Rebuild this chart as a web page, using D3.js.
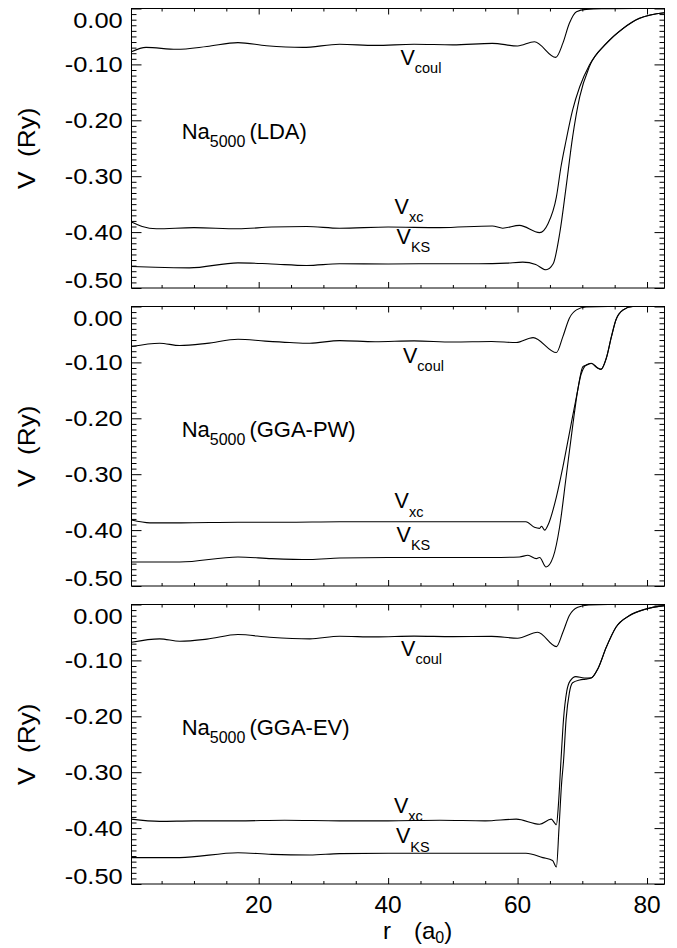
<!DOCTYPE html>
<html><head><meta charset="utf-8">
<script src="https://cdn.jsdelivr.net/npm/d3@7"></script>
<style>
html,body{margin:0;padding:0;background:#fff;}
svg{display:block;font-family:"Liberation Sans",Arial,Helvetica,sans-serif;}
text{white-space:pre;}
</style></head>
<body>
<script>
// ---------- data ----------
const panelNames = ["(LDA)", "(GGA-PW)", "(GGA-EV)"];
const xTickValues = [20, 40, 60, 80];
const xTickLabels = ["20", "40", "60", "80"];
const yTickValues = [0, -0.1, -0.2, -0.3, -0.4, -0.5];
const yTickLabels = ["0.00", "-0.10", "-0.20", "-0.30", "-0.40", "-0.50"];

// Panel 1: LDA
const lda_coul_r = [0.35, 2.6, 7.3, 12, 16.8, 21.2, 26.8, 32.5, 38, 44, 50, 56.1, 60, 62.6, 65.9, 67, 68, 69.1, 70.6, 73, 78, 82.7];
const lda_coul_v = [-0.0774, -0.0696, -0.0730, -0.068, -0.0610, -0.0666, -0.0696, -0.0640, -0.066, -0.064, -0.065, -0.0624, -0.0670, -0.0595, -0.0875, -0.0620, -0.0265, -0.0057, -0.0015, -0.0003, 0, 0];
const lda_xc_r = [0.35, 2, 4.2, 10, 16.8, 22, 27.4, 32.5, 40, 48, 56.1, 57.7, 60.3, 63.4, 64.7, 66, 66.7, 67.5, 68.5, 69.6, 71.1, 73.7, 76.3, 78.8, 82.7];
const lda_xc_v = [-0.382, -0.390, -0.394, -0.392, -0.394, -0.391, -0.390, -0.393, -0.391, -0.392, -0.389, -0.393, -0.388, -0.401, -0.385, -0.337, -0.2835, -0.2357, -0.182, -0.140, -0.101, -0.0624, -0.0355, -0.0176, -0.0075];
const lda_ks_r = [0.35, 4, 9.3, 16.8, 22, 27.4, 32.5, 40, 48, 54, 58.3, 60.8, 62.8, 64.4, 65.5, 66.5, 67.5, 68.5, 69.6, 71.1, 73.7, 76.3, 78.8, 82.7];
const lda_ks_v = [-0.4615, -0.463, -0.464, -0.455, -0.457, -0.4597, -0.4567, -0.457, -0.4565, -0.4567, -0.4555, -0.4538, -0.458, -0.4674, -0.4567, -0.403, -0.319, -0.23, -0.158, -0.104, -0.0630, -0.0358, -0.0178, -0.0075];

// Panel 2: GGA-PW
const pw_coul_r = [0.35, 4.7, 7.8, 12, 16.8, 21, 24.8, 27.9, 32.5, 38, 44, 50, 56, 59.8, 62.4, 66, 67, 68, 69.1, 70.6, 74, 82.7];
const pw_coul_v = [-0.0717, -0.0657, -0.0699, -0.066, -0.0585, -0.062, -0.0645, -0.0657, -0.061, -0.063, -0.0615, -0.0635, -0.0625, -0.0645, -0.0556, -0.0824, -0.0538, -0.0209, -0.0060, -0.0010, 0, 0];
const pw_xc_r = [0.35, 3.2, 8, 16.8, 24, 32.5, 40, 48, 56, 61.3, 62.6, 63.4, 63.7, 64.2, 64.7, 66, 67, 68, 69.1, 69.8, 70.6, 71.4, 72.4, 72.9, 73.7, 74.5, 75.2, 76.3, 77.8, 82.7];
const pw_xc_v = [-0.382, -0.387, -0.387, -0.386, -0.386, -0.385, -0.385, -0.385, -0.385, -0.385, -0.395, -0.397, -0.393, -0.400, -0.391, -0.3405, -0.287, -0.227, -0.161, -0.122, -0.1045, -0.1015, -0.110, -0.112, -0.0925, -0.0538, -0.0238, -0.006, 0.0, 0.0];
const pw_ks_r = [0.35, 7.8, 16.8, 22, 27.9, 32.5, 40, 48, 56, 60.3, 61.6, 62.9, 63.4, 64.4, 65.5, 66.5, 67.5, 68.5, 69.3, 70.1, 70.6, 71.4, 72.4, 72.9, 73.7, 74.5, 75.2, 76.3, 77.8, 82.7];
const pw_ks_v = [-0.457, -0.457, -0.448, -0.451, -0.4527, -0.450, -0.449, -0.449, -0.449, -0.448, -0.445, -0.451, -0.449, -0.466, -0.448, -0.394, -0.305, -0.215, -0.149, -0.1075, -0.1050, -0.1020, -0.1105, -0.1125, -0.0930, -0.0540, -0.0240, -0.0062, 0.0, 0.0];

// Panel 3: GGA-EV
const ev_coul_r = [0.35, 4.7, 7.8, 12, 16.8, 21.7, 27.9, 32.5, 38, 44, 50, 56, 60, 63.1, 66, 67, 68, 69.3, 71, 74, 82.7];
const ev_coul_v = [-0.0675, -0.0615, -0.0657, -0.062, -0.0538, -0.0586, -0.0615, -0.0568, -0.058, -0.0565, -0.0575, -0.0570, -0.0603, -0.0496, -0.0753, -0.0496, -0.0197, -0.0048, -0.0008, 0, 0];
const ev_xc_r = [0.35, 4.7, 10, 16.8, 24, 32.5, 40, 48, 55, 59.8, 63.4, 65.2, 65.8, 66.0, 66.3, 66.7, 67.1, 67.6, 68.1, 69.0, 70.3, 71.4, 72.4, 73.7, 75.2, 77.3, 79.9, 82.7];
const ev_xc_v = [-0.384, -0.388, -0.387, -0.387, -0.386, -0.387, -0.387, -0.386, -0.387, -0.384, -0.393, -0.384, -0.392, -0.394, -0.36, -0.28, -0.205, -0.155, -0.137, -0.129, -0.1314, -0.131, -0.115, -0.0765, -0.0406, -0.0197, -0.0078, -0.002];
const ev_ks_r = [0.35, 7.8, 16.8, 22, 27.9, 32.5, 40, 48, 55, 61.3, 63.9, 65.4, 66.0, 66.4, 66.8, 67.1, 67.5, 68.0, 68.5, 69.6, 70.5, 71.4, 72.4, 73.7, 75.2, 77.3, 79.9, 82.7];
const ev_ks_v = [-0.4528, -0.4528, -0.444, -0.447, -0.448, -0.4456, -0.445, -0.445, -0.445, -0.445, -0.4528, -0.458, -0.4695, -0.40, -0.32, -0.28, -0.205, -0.158, -0.140, -0.135, -0.1335, -0.1315, -0.1152, -0.0767, -0.0408, -0.0198, -0.0079, -0.002];

// label anchors (data coordinates)
const curveLabelNames = ["coul", "xc", "KS"];
const curveLabelR = [[41.9, 41.0, 41.3], [42.3, 41.0, 41.3], [42.0, 40.9, 41.2]];
const curveLabelV = [[-0.101, -0.367, -0.421], [-0.101, -0.361, -0.421], [-0.092, -0.373, -0.427]];
const nameLabelR = 8.1;
const nameLabelV = -0.233;

// ---------- layout ----------
const W = 677, H = 948;
const panelTop = [8.5, 306.5, 604.5];
const panelH = 279.5;
const x0 = 131.5, x1 = 664.5;

const svg = d3.select("body").append("svg").attr("width", W).attr("height", H);

const x = d3.scaleLinear().domain([0.35, 82.7]).range([x0, x1]);

const panels = [
  {coul: [lda_coul_r, lda_coul_v], xc: [lda_xc_r, lda_xc_v], ks: [lda_ks_r, lda_ks_v]},
  {coul: [pw_coul_r, pw_coul_v], xc: [pw_xc_r, pw_xc_v], ks: [pw_ks_r, pw_ks_v]},
  {coul: [ev_coul_r, ev_coul_v], xc: [ev_xc_r, ev_xc_v], ks: [ev_ks_r, ev_ks_v]}
];

const xMinor = d3.range(5, 85, 5).filter(v => v % 20 !== 0);
const yMinor = d3.range(-50, 1, 1).map(v => v / 100).filter(v => Math.round(v * 100) % 10 !== 0);

function stretch(sel, k) {
  sel.each(function() {
    const w = this.getComputedTextLength();
    d3.select(this).attr("textLength", w * k).attr("lengthAdjust", "spacingAndGlyphs");
  });
}

panels.forEach((p, i) => {
  const top = panelTop[i];
  const y = d3.scaleLinear().domain([-0.5, 0]).range([top + panelH, top]);
  const g = svg.append("g");

  const clipId = "clip" + i;
  svg.append("clipPath").attr("id", clipId).append("rect")
    .attr("x", x0).attr("y", top - 1).attr("width", x1 - x0).attr("height", panelH + 2);

  // curves
  const line = d3.line().x(d => x(d[0])).y(d => y(d[1])).curve(d3.curveMonotoneX);
  ["coul", "xc", "ks"].forEach(k => {
    const [rs, vs] = p[k];
    const pts = rs.map((r, j) => [r, vs[j]]);
    g.append("path").attr("d", line(pts)).attr("fill", "none")
      .attr("stroke", "#000").attr("stroke-width", 1.1).attr("clip-path", `url(#${clipId})`);
  });

  // axes ticks (inward), no domain path
  const addAxis = (axis, transform) => {
    const a = g.append("g").attr("transform", transform).call(axis);
    a.select(".domain").remove();
    a.selectAll("line").attr("stroke", "#000").attr("stroke-width", 1);
    a.selectAll("text").remove();
  };
  addAxis(d3.axisBottom(x).tickValues(xTickValues).tickSize(-6).tickFormat(""), `translate(0,${top + panelH})`);
  addAxis(d3.axisBottom(x).tickValues(xMinor).tickSize(-3).tickFormat(""), `translate(0,${top + panelH})`);
  addAxis(d3.axisTop(x).tickValues(xTickValues).tickSize(-6).tickFormat(""), `translate(0,${top})`);
  addAxis(d3.axisTop(x).tickValues(xMinor).tickSize(-3).tickFormat(""), `translate(0,${top})`);
  addAxis(d3.axisLeft(y).tickValues(yTickValues).tickSize(-10).tickFormat(""), `translate(${x0},0)`);
  addAxis(d3.axisLeft(y).tickValues(yMinor).tickSize(-5).tickFormat(""), `translate(${x0},0)`);
  addAxis(d3.axisRight(y).tickValues(yTickValues).tickSize(-10).tickFormat(""), `translate(${x1},0)`);
  addAxis(d3.axisRight(y).tickValues(yMinor).tickSize(-5).tickFormat(""), `translate(${x1},0)`);

  // frame
  g.append("rect").attr("x", x0).attr("y", top).attr("width", x1 - x0).attr("height", panelH)
    .attr("fill", "none").attr("stroke", "#000").attr("stroke-width", 1);

  // y tick labels
  const yl = g.selectAll(".ytl").data(yTickValues).enter().append("text")
    .attr("x", 122.7)
    .attr("y", (v, j) => {
      let yy = y(v);
      if (j === 0) yy += 11;
      if (j === yTickValues.length - 1) yy -= 8.5;
      return yy + 8;
    })
    .attr("text-anchor", "end").attr("font-size", 22.5).attr("fill", "#000")
    .text((v, j) => yTickLabels[j]);
  stretch(yl, 1.13);

  // y axis title
  const yt = g.append("text")
    .attr("transform", `translate(34.5,${top + panelH / 2}) rotate(-90)`)
    .attr("text-anchor", "middle").attr("font-size", 24.5).attr("fill", "#000")
    .text("V  (Ry)");
  stretch(yt, 1.07);

  // panel name label
  const nt = g.append("text").attr("x", x(nameLabelR)).attr("y", y(nameLabelV))
    .attr("font-size", 22).attr("fill", "#000");
  nt.append("tspan").text("Na");
  nt.append("tspan").attr("font-size", 16).attr("dy", 8.4).text("5000");
  nt.append("tspan").attr("dy", -8.4).attr("dx", 4).text(panelNames[i]);

  // curve labels
  curveLabelNames.forEach((nm, j) => {
    const t = g.append("text").attr("x", x(curveLabelR[i][j])).attr("y", y(curveLabelV[i][j]))
      .attr("font-size", 21.5).attr("fill", "#000");
    t.append("tspan").text("V");
    t.append("tspan").attr("font-size", 14.5).attr("dy", 8.4).text(nm);
  });

  // x tick labels only in the last panel
  if (i === panels.length - 1) {
    g.selectAll(".xtl").data(xTickValues).enter().append("text")
      .attr("x", d => x(d)).attr("y", top + panelH + 29)
      .attr("text-anchor", "middle").attr("font-size", 24.5).attr("fill", "#000")
      .text((d, j) => xTickLabels[j]);
    const xt = g.append("text").attr("x", 383).attr("y", 939).attr("font-size", 24).attr("fill", "#000");
    xt.append("tspan").text("r");
    xt.append("tspan").attr("x", 414).text("(a");
    xt.append("tspan").attr("font-size", 16).attr("dy", 4).text("0");
    xt.append("tspan").attr("dy", -4).text(")");
  }
});
</script>
</body></html>
